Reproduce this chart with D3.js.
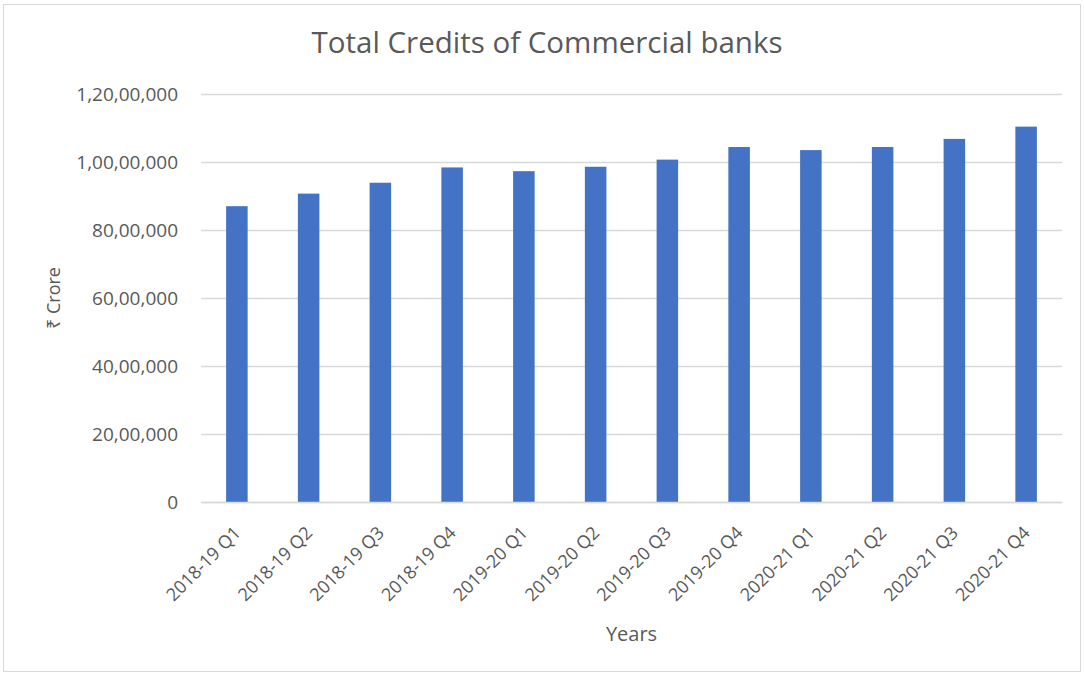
<!DOCTYPE html>
<html>
<head>
<meta charset="utf-8">
<script src="https://cdn.jsdelivr.net/npm/d3@7"></script>
<style>
  body { margin: 0; background: #fff; }
  text { font-family: "Open Sans", "Noto Sans", sans-serif; fill: #595959; }
</style>
</head>
<body>
<div id="chart"></div>
<script>
// quarters on the x axis
let quarters = ["2018-19 Q1", "2018-19 Q2", "2018-19 Q3", "2018-19 Q4",
                "2019-20 Q1", "2019-20 Q2", "2019-20 Q3", "2019-20 Q4",
                "2020-21 Q1", "2020-21 Q2", "2020-21 Q3", "2020-21 Q4"];
// total credits, Rs crore
let credits = [8700000, 9070000, 9390000, 9840000,
               9730000, 9860000, 10070000, 10440000,
               10350000, 10440000, 10680000, 11040000];
let yTicks = [0, 2000000, 4000000, 6000000, 8000000, 10000000, 12000000];

let W = 1084, H = 676;
let plotLeft = 201, plotRight = 1062, plotTop = 94, plotBottom = 502;

let svg = d3.select("#chart")
              .append("svg")
                .attr("width", W)
                .attr("height", H)
;

// frame round the picture
svg.append("rect")
    .attr("x", 3.5).attr("y", 4.5)
    .attr("width", 1077).attr("height", 667)
    .attr("fill", "none")
    .attr("stroke", "#d9d9d9");

let x = d3.scaleBand()
            .domain(quarters)
            .range([plotLeft, plotRight])
            .paddingInner(0.7)
            .paddingOuter(0.35);

let y = d3.scaleLinear()
            .domain([0, 12000000])
            .range([plotBottom, plotTop]);

// indian style digit grouping: 1,20,00,000
function indian(v) {
  let s = String(v);
  if (s.length <= 3) return s;
  let last = s.slice(-3), rest = s.slice(0, -3);
  rest = rest.replace(/\B(?=(\d{2})+(?!\d))/g, ",");
  return rest + "," + last;
}

// gridlines + y labels
let yAxis = d3.axisLeft(y)
                .tickValues(yTicks)
                .tickSize(-(plotRight - plotLeft))
                .tickFormat(indian)
                .tickPadding(23);
let gy = svg.append("g")
            .attr("transform", "translate(" + plotLeft + ",0)")
            .call(yAxis);
gy.select(".domain").remove();
gy.selectAll("line").attr("stroke", "#d9d9d9").attr("stroke-width", 1.3);
gy.selectAll("text")
    .style("font-size", "19px")
    .attr("fill", "#595959");

// bars
svg.selectAll("rect.bar")
    .data(credits)
    .enter()
    .append("rect")
      .attr("class", "bar")
      .attr("x", function(d, i) { return x(quarters[i]); })
      .attr("y", function(d) { return y(d); })
      .attr("width", x.bandwidth())
      .attr("height", function(d) { return plotBottom - y(d); })
      .attr("fill", "#4472c4");

// x labels
let xAxis = d3.axisBottom(x).tickSize(0).tickPadding(0);
let gx = svg.append("g")
            .attr("transform", "translate(0," + plotBottom + ")")
            .call(xAxis);
gx.select(".domain").attr("stroke", "#d9d9d9").attr("stroke-width", 1.3);
gx.selectAll("text")
    .style("font-size", "18px")
    .attr("fill", "#595959")
    .attr("text-anchor", "end")
    .attr("dy", "0")
    .attr("y", 0)
    .attr("transform", "translate(5,32) rotate(-45)");

// title
svg.append("text")
    .attr("x", 547).attr("y", 53)
    .attr("text-anchor", "middle")
    .style("font-size", "29.5px")
    .text("Total Credits of Commercial banks");

// axis titles
svg.append("text")
    .attr("transform", "translate(60,298) rotate(-90)")
    .attr("text-anchor", "middle")
    .style("font-size", "18px")
    .text("₹ Crore");

svg.append("text")
    .attr("x", (plotLeft + plotRight) / 2).attr("y", 641)
    .attr("text-anchor", "middle")
    .style("font-size", "20px")
    .text("Years");
</script>
</body>
</html>
